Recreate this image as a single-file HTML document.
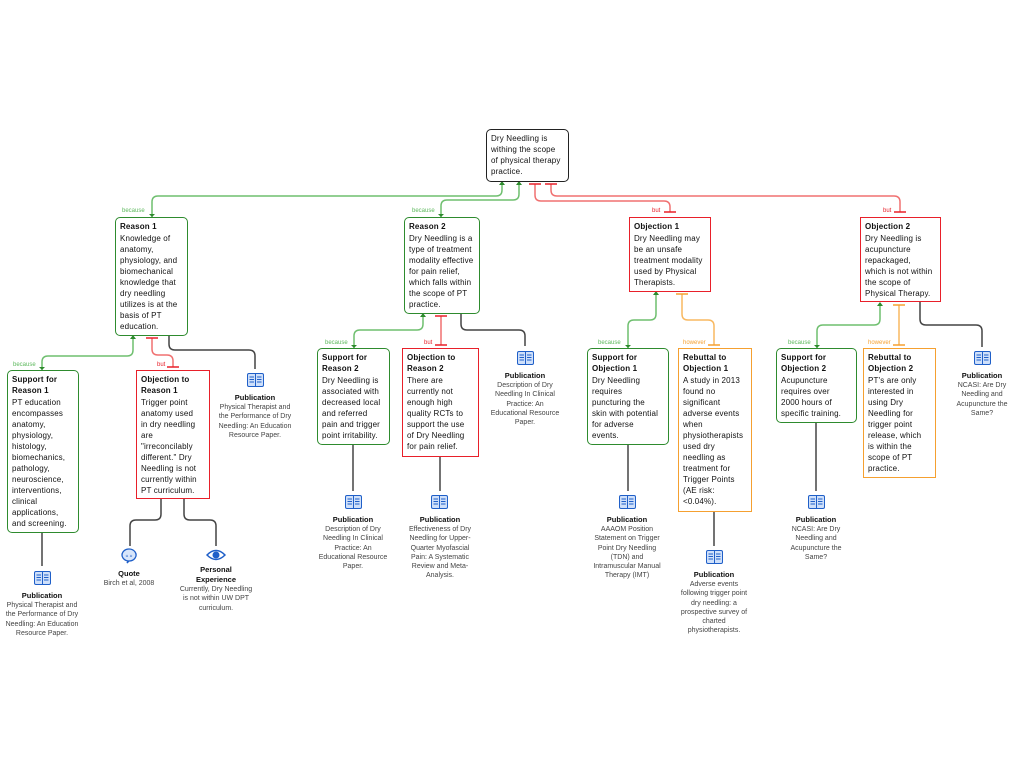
<!DOCTYPE html>
<html><head><meta charset="utf-8"><style>
body{margin:0;width:1024px;height:768px;background:#fff;position:relative;font-family:"Liberation Sans",sans-serif;overflow:hidden}
.b{position:absolute;box-sizing:border-box;background:#fff;padding:3px 3px 2px 4px;font-size:8px;line-height:11px;color:#111;letter-spacing:0.15px;white-space:nowrap}
.b b{display:block;font-size:8px;line-height:11px;margin-bottom:1px}
.g{border:1.5px solid #2e8b2e;border-radius:5px}
.r{border:1.5px solid #e8202a}
.o{border:1.5px solid #f5a030}
.k{border:1.5px solid #222;border-radius:5px}
.lab{position:absolute;font-size:6px;line-height:7px}
.pub{position:absolute;text-align:center;font-size:7px;line-height:9.3px;color:#444;width:78px;margin-left:-39px}
.pub b{display:block;color:#111;font-size:7.5px;line-height:11px;margin-top:15px}
svg{position:absolute;left:0;top:0}
</style></head><body>
<svg width="1024" height="768" fill="none" stroke-width="1.5">
<g stroke="#6fbf6f">
<path d="M152 217V202Q152 196 158 196H496Q502 196 502 190V182"/>
<path d="M441 217V206Q441 200 447 200H513Q519 200 519 194V182"/>
<path d="M42 370V362Q42 356 48 356H127Q133 356 133 350V336"/>
<path d="M354 348V336Q354 330 360 330H417Q423 330 423 324V314"/>
<path d="M628 348V326Q628 320 634 320H650Q656 320 656 314V292"/>
<path d="M817 348V331Q817 325 823 325H874Q880 325 880 319V303"/>
</g>
<g fill="#2e8b2e"><path d="M499 185l3-4 3 4z"/><path d="M516 185l3-4 3 4z"/><path d="M130 339l3-4 3 4z"/><path d="M420 317l3-4 3 4z"/><path d="M653 295l3-4 3 4z"/><path d="M877 306l3-4 3 4z"/>
<path d="M149 214l3 3 3-3z"/><path d="M438 214l3 3 3-3z"/><path d="M39 367l3 3 3-3z"/><path d="M351 345l3 3 3-3z"/><path d="M625 345l3 3 3-3z"/><path d="M814 345l3 3 3-3z"/></g>
<g stroke="#f07070">
<path d="M535 184V195Q535 201 541 201H664Q670 201 670 207V212"/>
<path d="M551 184V190Q551 196 557 196H894Q900 196 900 202V212"/>
<path d="M152 338V349Q152 355 158 355H167Q173 355 173 361V367"/>
<path d="M441 316V345"/>
</g>
<g stroke="#e8202a"><path d="M529 184H541M664 212H676M545 184H557M894 212H906M146 338H158M167 367H179M435 316H447M435 345H447"/></g>
<g stroke="#f8b860">
<path d="M682 294V314Q682 320 688 320H708Q714 320 714 326V345"/>
<path d="M899 305V345"/>
</g>
<g stroke="#f5a030"><path d="M676 294H688M708 345H720M893 305H905M893 345H905"/></g>
<g stroke="#444">
<path d="M169 336V344Q169 350 175 350H249Q255 350 255 356V369"/>
<path d="M461 314V324Q461 330 467 330H519Q525 330 525 336V346"/>
<path d="M920 302V319Q920 325 926 325H976Q982 325 982 331V347"/>
<path d="M42 532V566"/><path d="M353 444V491"/><path d="M440 456V491"/><path d="M628 444V491"/><path d="M714 511V546"/><path d="M816 422V491"/>
<path d="M161 498V514Q161 520 155 520H136Q130 520 130 526V546"/>
<path d="M184 498V514Q184 520 190 520H210Q216 520 216 526V546"/>
</g>
</svg>

<div class="lab" style="left:122px;top:208px;color:#5cb85c">because</div>
<div class="lab" style="left:412px;top:208px;color:#5cb85c">because</div>
<div class="lab" style="left:652px;top:208px;color:#e8202a">but</div>
<div class="lab" style="left:883px;top:208px;color:#e8202a">but</div>
<div class="lab" style="left:13px;top:362px;color:#5cb85c">because</div>
<div class="lab" style="left:157px;top:362px;color:#e8202a">but</div>
<div class="lab" style="left:325px;top:340px;color:#5cb85c">because</div>
<div class="lab" style="left:424px;top:340px;color:#e8202a">but</div>
<div class="lab" style="left:598px;top:340px;color:#5cb85c">because</div>
<div class="lab" style="left:683px;top:340px;color:#f5a030">however</div>
<div class="lab" style="left:788px;top:340px;color:#5cb85c">because</div>
<div class="lab" style="left:868px;top:340px;color:#f5a030">however</div>

<div class="b k" style="left:486px;top:129px;width:83px;height:53px">Dry Needling is<br>withing the scope<br>of physical therapy<br>practice.</div>
<div class="b g" style="left:115px;top:217px;width:73px;height:119px"><b>Reason 1</b>Knowledge of<br>anatomy,<br>physiology, and<br>biomechanical<br>knowledge that<br>dry needling<br>utilizes is at the<br>basis of PT<br>education.</div>
<div class="b g" style="left:404px;top:217px;width:76px;height:97px"><b>Reason 2</b>Dry Needling is a<br>type of treatment<br>modality effective<br>for pain relief,<br>which falls within<br>the scope of PT<br>practice.</div>
<div class="b r" style="left:629px;top:217px;width:82px;height:75px"><b>Objection 1</b>Dry Needling may<br>be an unsafe<br>treatment modality<br>used by Physical<br>Therapists.</div>
<div class="b r" style="left:860px;top:217px;width:81px;height:85px"><b>Objection 2</b>Dry Needling is<br>acupuncture<br>repackaged,<br>which is not within<br>the scope of<br>Physical Therapy.</div>

<div class="b g" style="left:7px;top:370px;width:72px;height:163px"><b>Support for<br>Reason 1</b>PT education<br>encompasses<br>anatomy,<br>physiology,<br>histology,<br>biomechanics,<br>pathology,<br>neuroscience,<br>interventions,<br>clinical<br>applications,<br>and screening.</div>
<div class="b r" style="left:136px;top:370px;width:74px;height:129px"><b>Objection to<br>Reason 1</b>Trigger point<br>anatomy used<br>in dry needling<br>are<br>"irreconcilably<br>different." Dry<br>Needling is not<br>currently within<br>PT curriculum.</div>
<div class="b g" style="left:317px;top:348px;width:73px;height:97px"><b>Support for<br>Reason 2</b>Dry Needling is<br>associated with<br>decreased local<br>and referred<br>pain and trigger<br>point irritability.</div>
<div class="b r" style="left:402px;top:348px;width:77px;height:109px"><b>Objection to<br>Reason 2</b>There are<br>currently not<br>enough high<br>quality RCTs to<br>support the use<br>of Dry Needling<br>for pain relief.</div>
<div class="b g" style="left:587px;top:348px;width:82px;height:97px"><b>Support for<br>Objection 1</b>Dry Needling<br>requires<br>puncturing the<br>skin with potential<br>for adverse<br>events.</div>
<div class="b o" style="left:678px;top:348px;width:74px;height:164px"><b>Rebuttal to<br>Objection 1</b>A study in 2013<br>found no<br>significant<br>adverse events<br>when<br>physiotherapists<br>used dry<br>needling as<br>treatment for<br>Trigger Points<br>(AE risk:<br>&lt;0.04%).</div>
<div class="b g" style="left:776px;top:348px;width:81px;height:75px"><b>Support for<br>Objection 2</b>Acupuncture<br>requires over<br>2000 hours of<br>specific training.</div>
<div class="b o" style="left:863px;top:348px;width:73px;height:130px"><b>Rebuttal to<br>Objection 2</b>PT's are only<br>interested in<br>using Dry<br>Needling for<br>trigger point<br>release, which<br>is within the<br>scope of PT<br>practice.</div>

<svg width="0" height="0"><defs><g id="bk"><rect x="0.5" y="0.5" width="16" height="13" rx="1.5" fill="#cfe0fa" stroke="#1f5fc8"/><path d="M8.5 1V13.5M2.5 4H7M2.5 6.5H7M2.5 9H7M10 4H14.5M10 6.5H14.5M10 9H14.5" stroke="#1f5fc8" stroke-width="1"/></g></defs></svg>
<svg style="left:247px;top:373px" width="18" height="15"><use href="#bk"/></svg>
<svg style="left:517px;top:351px" width="18" height="15"><use href="#bk"/></svg>
<svg style="left:974px;top:351px" width="18" height="15"><use href="#bk"/></svg>
<svg style="left:34px;top:571px" width="18" height="15"><use href="#bk"/></svg>
<svg style="left:345px;top:495px" width="18" height="15"><use href="#bk"/></svg>
<svg style="left:431px;top:495px" width="18" height="15"><use href="#bk"/></svg>
<svg style="left:619px;top:495px" width="18" height="15"><use href="#bk"/></svg>
<svg style="left:706px;top:550px" width="18" height="15"><use href="#bk"/></svg>
<svg style="left:808px;top:495px" width="18" height="15"><use href="#bk"/></svg>
<svg style="left:120px;top:548px" width="18" height="16"><path d="M9 1a7 6 0 1 0 0.1 0zM9 13l-2 2 1-2" fill="#d8e6fb" stroke="#1f5fc8" stroke-width="1.3"/><text x="9" y="9.5" font-size="5" text-anchor="middle" fill="#1f5fc8" font-family="Liberation Sans">« »</text></svg>
<svg style="left:206px;top:549px" width="20" height="12"><path d="M1 6Q10 -3 19 6Q10 15 1 6z" fill="#fff" stroke="#1f5fc8" stroke-width="1.5"/><circle cx="10" cy="6" r="3.5" fill="#1f5fc8"/></svg>

<div class="pub" style="left:255px;top:377px"><b>Publication</b>Physical Therapist and the Performance of Dry Needling: An Education Resource Paper.</div>
<div class="pub" style="left:525px;top:355px;width:72px;margin-left:-36px"><b>Publication</b>Description of Dry Needling In Clinical Practice: An Educational Resource Paper.</div>
<div class="pub" style="left:982px;top:355px;width:60px;margin-left:-30px"><b>Publication</b>NCASI: Are Dry Needling and Acupuncture the Same?</div>
<div class="pub" style="left:42px;top:575px"><b>Publication</b>Physical Therapist and the Performance of Dry Needling: An Education Resource Paper.</div>
<div class="pub" style="left:353px;top:499px;width:72px;margin-left:-36px"><b>Publication</b>Description of Dry Needling In Clinical Practice: An Educational Resource Paper.</div>
<div class="pub" style="left:440px;top:499px;width:70px;margin-left:-35px"><b>Publication</b>Effectiveness of Dry Needling for Upper-Quarter Myofascial Pain: A Systematic Review and Meta-Analysis.</div>
<div class="pub" style="left:627px;top:499px;width:72px;margin-left:-36px"><b>Publication</b>AAAOM Position Statement on Trigger Point Dry Needling (TDN) and Intramuscular Manual Therapy (IMT)</div>
<div class="pub" style="left:714px;top:554px;width:70px;margin-left:-35px"><b>Publication</b>Adverse events following trigger point dry needling: a prospective survey of charted physiotherapists.</div>
<div class="pub" style="left:816px;top:499px;width:60px;margin-left:-30px"><b>Publication</b>NCASI: Are Dry Needling and Acupuncture the Same?</div>
<div class="pub" style="left:129px;top:553px"><b>Quote</b>Birch et al, 2008</div>
<div class="pub" style="left:216px;top:552px;width:76px;margin-left:-38px"><b style="line-height:10px;margin-top:13px">Personal<br>Experience</b>Currently, Dry Needling is not within UW DPT curriculum.</div>
</body></html>
